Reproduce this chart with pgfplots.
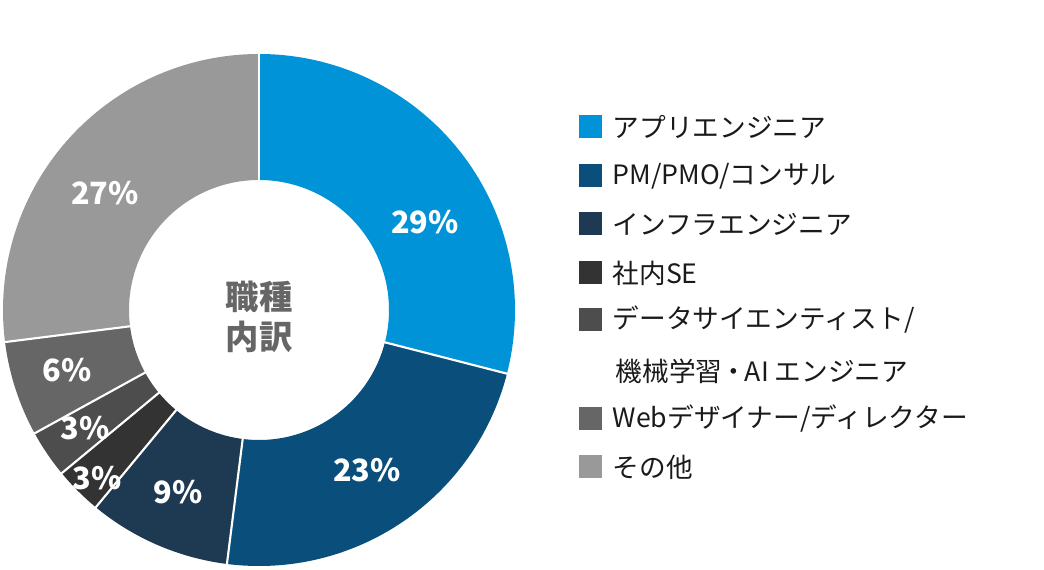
\documentclass[border=0pt]{standalone}
\usepackage{pgfplots}
\pgfplotsset{compat=1.18}
\usetikzlibrary{calc}
\usepackage{fontspec}
\setmainfont{Noto Sans CJK JP}
\definecolor{c1}{HTML}{0093D7}
\definecolor{c2}{HTML}{0A4F7B}
\definecolor{c3}{HTML}{1E3A52}
\definecolor{c4}{HTML}{333333}
\definecolor{c5}{HTML}{4D4D4D}
\definecolor{c6}{HTML}{666666}
\definecolor{c7}{HTML}{999999}
\definecolor{ctr}{HTML}{666666}
\definecolor{txt}{HTML}{1A1A1A}
\begin{document}
\begin{tikzpicture}
\begin{axis}[x=0.75pt,y=0.75pt,xmin=0,xmax=1044,ymin=0,ymax=570,
  hide axis,clip=false,scale only axis]
\addplot[draw=none,forget plot] coordinates {(0,0) (1044,570)};
\coordinate (BL) at (axis cs:0,0);
\coordinate (TR) at (axis cs:1044,570);
\pgfplotsextra{
  \coordinate (C) at (axis cs:259,260);
  \gdef\cum{0}
  \foreach \v/\c in {29/c1,23/c2,9/c3,3/c4,3/c5,6/c6,27/c7}{
    \pgfmathsetmacro{\s}{90-3.6*\cum}
    \pgfmathsetmacro{\e}{\s-3.6*\v}
    \fill[\c] (C) ++(\s:192pt) arc[start angle=\s,end angle=\e,radius=192pt]
      -- ($(C)+(\e:97.5pt)$) arc[start angle=\e,end angle=\s,radius=97.5pt] -- cycle;
    \pgfmathsetmacro{\n}{\cum+\v}\global\let\cum\n
  }
  \foreach \v in {0,29,52,61,64,67,73}{
    \draw[white,line width=1.6pt] ($(C)+(90-3.6*\v:96pt)$) -- ($(C)+(90-3.6*\v:193pt)$);
  }
}
% percentage labels
\begin{scope}[every node/.style={font=\bfseries\fontsize{23}{27}\selectfont,text=white}]
\node at (axis cs:425,348) {29\%};
\node at (axis cs:367,100) {23\%};
\node at (axis cs:178,78) {9\%};
\node at (axis cs:97,92) {3\%};
\node at (axis cs:85,142) {3\%};
\node at (axis cs:67,200) {6\%};
\node at (axis cs:105,377) {27\%};
\end{scope}
% center text
\node[font=\bfseries\fontsize{25}{29.5}\selectfont,text=ctr,align=center] at (axis cs:259,253) {職種\\内訳};
% legend
\begin{scope}[every node/.style={font=\fontsize{20}{24}\selectfont,text=txt,anchor=west}]
\fill[c1] (axis cs:579,431.5) rectangle (axis cs:602,454.5);
\node at (axis cs:608,443) {アプリエンジニア};
\fill[c2] (axis cs:579,382.5) rectangle (axis cs:602,405.5);
\node at (axis cs:608,394) {PM/PMO/コンサル};
\fill[c3] (axis cs:579,334.5) rectangle (axis cs:602,357.5);
\node at (axis cs:608,346) {インフラエンジニア};
\fill[c4] (axis cs:579,285.5) rectangle (axis cs:602,308.5);
\node at (axis cs:608,297) {社内SE};
\fill[c5] (axis cs:579,238.5) rectangle (axis cs:602,261.5);
\node at (axis cs:608,250) {データサイエンティスト/};
\node at (axis cs:611,199) {機械学習\kern-0.08em・\kern-0.08em AI エンジニア};
\fill[c6] (axis cs:579,139.5) rectangle (axis cs:602,162.5);
\node at (axis cs:608,151) {Webデザイナー/ディレクター};
\fill[c7] (axis cs:579,91.5) rectangle (axis cs:602,114.5);
\node at (axis cs:608,103) {その他};
\end{scope}
\end{axis}
\pgfresetboundingbox
\useasboundingbox (BL) rectangle (TR);
\end{tikzpicture}
\end{document}
